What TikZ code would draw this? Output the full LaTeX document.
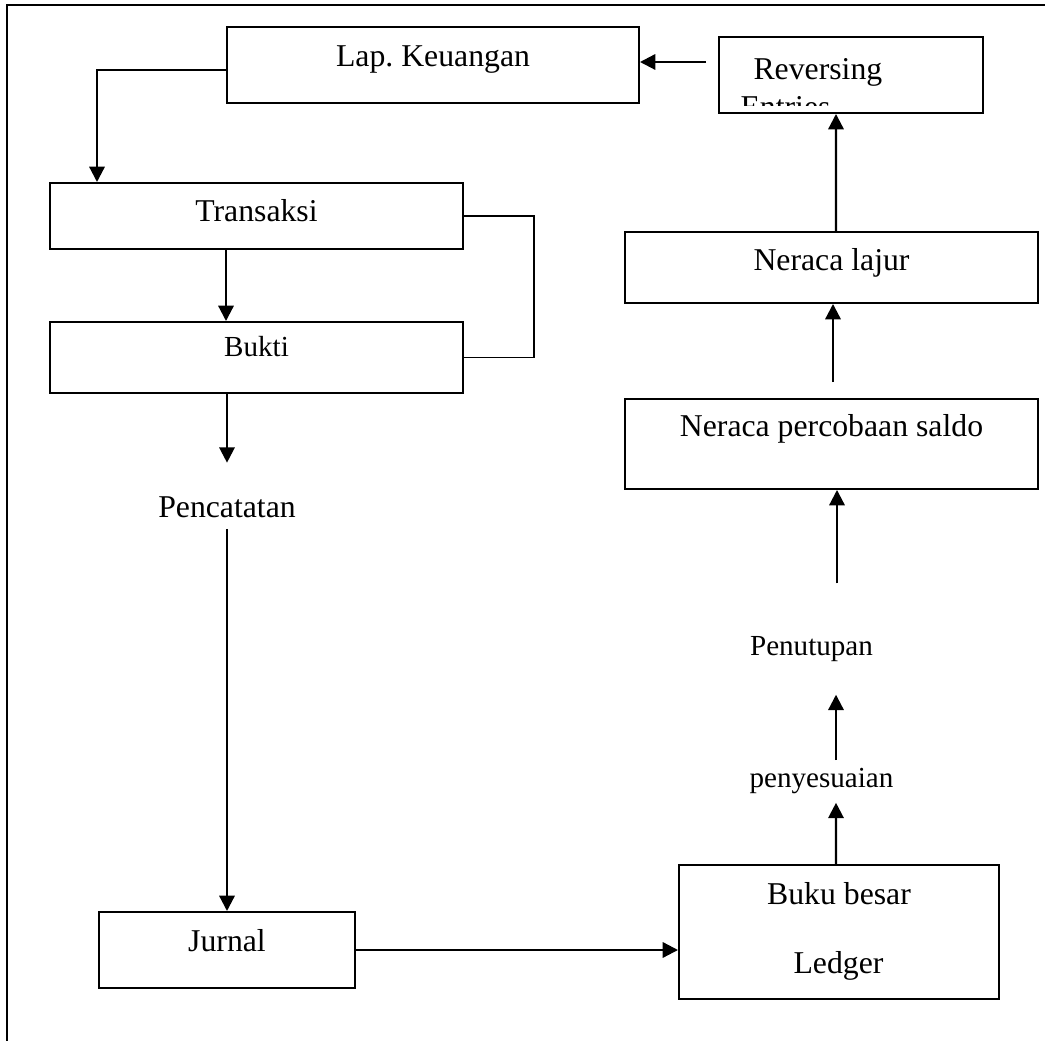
\documentclass[tikz,border=0pt]{standalone}
\usepackage{fontspec}
\setmainfont{Liberation Serif}
\usetikzlibrary{arrows.meta,calc}
\newlength{\pxu}
\setlength{\pxu}{0.378pt}
\frenchspacing

\begin{document}
\begin{tikzpicture}[x=\pxu, y=-\pxu,
    box/.style n args={3}{draw, line width=0.75pt, inner sep=0pt, anchor=base,
      minimum width=#1\pxu, text height=#2\pxu, text depth=#3\pxu,
      font=\fontsize{12}{14}\selectfont},
    txt/.style={inner sep=0pt, anchor=base, font=\fontsize{12}{14}\selectfont},
    small/.style={font=\fontsize{11}{13}\selectfont},
    arr/.style={line width=0.85pt, -{Triangle[length=5.8pt,width=5.8pt]}},
    link/.style={line width=0.75pt}]
    \useasboundingbox (0,0) rectangle (1045,1041);
    % Frame
    \draw[link] (7,1041) -- (7,5) -- (1045,5);

    % Left column
    \node[box={412}{40}{36}] (lap) at (433,67) {Lap. Keuangan};
    \node[box={413}{39}{27}] (tra) at (256.5,222) {Transaksi};
    \node[box={413}{35}{36}, small] (buk) at (256.5,357) {Bukti};
    \node[txt] (pen) at (227,518) {Pencatatan};
    \node[box={256}{39}{37}] (jur) at (227,951) {Jurnal};

    % Right column
    \node[box={264}{43}{33}] (rev) at (851,80) {};
    \node[txt, anchor=base west] (revtxt) at (753,80) {Reversing};
    \begin{scope}
      \clip ($(rev.south west)+(0,-8)$) rectangle (rev.north east);
      \node[txt, anchor=base west] (enttxt) at (740,118) {Entries};
    \end{scope}
    \node[box={413}{39}{32}] (lajur) at (831.5,271) {Neraca lajur};
    \node[box={413}{38}{52}] (perc) at (831.5,437) {Neraca percobaan saldo};
    \node[txt, small] (ptp) at (811.5,656) {Penutupan};
    \node[txt, small] (pny) at (821.5,787) {penyesuaian};
    \node[box={320}{39}{95}] (buku) at (839,904) {Buku besar};
    \node[txt] (ledger) at (838.5,973) {Ledger};

    % Arrows
    \draw[arr] ($(rev.west)+(-12,-13)$) -- ($(lap.east)+(0,-3)$);
    \draw[arr] ($(lap.west)+(0,5)$) -| ($(tra.north west)+(48,0)$);
    \draw[arr] ($(tra.south west)+(177,0)$) -- ($(buk.north west)+(177,0)$);
    \draw[link] (tra.east) -- ++(70,0) |- (buk.east);
    \draw[arr] (buk.south -| pen) -- ($(pen.north)+(0,-34)$);
    \draw[arr] ($(pen.south)+(0,10)$) -- (jur.north);
    \draw[arr] (jur.east) -- (jur.east -| buku.west);
    \draw[arr] ($(buku.north)+(-3,0)$) -- ($(pny.south)+(14.5,9)$);
    \draw[arr] ($(pny.north)+(14.5,-7)$) -- ($(ptp.south)+(24.5,32)$);
    \draw[arr] ($(ptp.north)+(25.5,-53)$) -- ($(perc.south)+(5.5,0)$);
    \draw[arr] ($(perc.north)+(1.5,-16)$) -- ($(lajur.south)+(1.5,0)$);
    \draw[arr] ($(lajur.north)+(4.5,0)$) -- ($(rev.south)+(-15,0)$);
\end{tikzpicture}
\end{document}
